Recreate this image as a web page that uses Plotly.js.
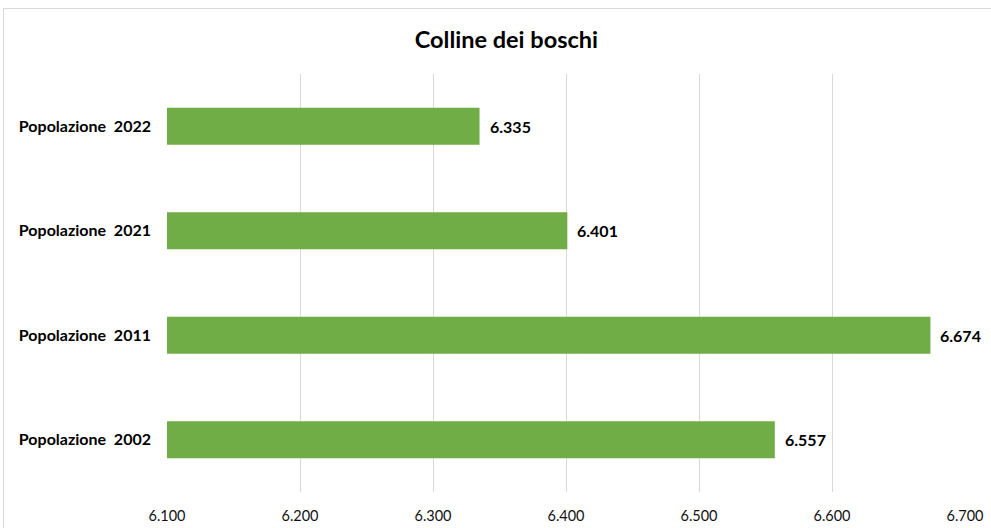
<!DOCTYPE html>
<html>
<head>
<meta charset="utf-8">
<script src="https://cdn.plot.ly/plotly-3.0.1.min.js"></script>
<style>
html,body{margin:0;padding:0;background:#fff;}
#chart{width:991px;height:528px;position:absolute;left:0;top:0;}
#frame{position:absolute;left:3px;top:8px;width:995px;height:540px;border:1px solid #d9d9d9;pointer-events:none;box-sizing:border-box;}
</style>
</head>
<body>
<div id="chart"></div>
<div id="frame"></div>
<script>
const categories = ["Popolazione  2002", "Popolazione  2011", "Popolazione  2021", "Popolazione  2022"];
const values = [6557, 6674, 6401, 6335];
const tickValues = [6100, 6200, 6300, 6400, 6500, 6600, 6700];
const chartTitle = "Colline dei boschi";

const FONT = "Lato, 'Open Sans', sans-serif";

const trace = {
  type: "bar",
  orientation: "h",
  y: categories,
  x: values,
  marker: {color: "#70AD47"},
  width: 0.355,
  hoverinfo: "none"
};

const layout = {
  width: 991, height: 528,
  margin: {l: 167, r: 26, t: 74, b: 36},
  paper_bgcolor: "#fff", plot_bgcolor: "#fff",
  separators: ",.",
  showlegend: false,
  title: {
    text: "<b>" + chartTitle + "</b>",
    font: {family: FONT, size: 23.5, color: "#000"},
    xref: "container", x: 0.511, xanchor: "center",
    yref: "container", y: 1 - 40/528, yanchor: "middle"
  },
  xaxis: {
    range: [6100, 6700],
    tickvals: tickValues,
    tickformat: ",d",
    showgrid: true, gridcolor: "#d9d9d9", gridwidth: 1,
    zeroline: false, showline: false,
    ticks: "", ticklabelstandoff: 13,
    tickfont: {family: FONT, size: 14.5, color: "#111"}
  },
  yaxis: {
    type: "category",
    showgrid: false, zeroline: false, showline: false,
    ticks: "", ticklabelstandoff: 15,
    tickfont: {family: FONT, size: 16, color: "#000", weight: "bold"}
  },
  annotations: values.map((v, i) => ({
    x: v, y: categories[i], xref: "x", yref: "y",
    text: "<b>" + v.toLocaleString("it-IT") + "</b>",
    showarrow: false, xanchor: "left", xshift: 8,
    font: {family: FONT, size: 16, color: "#000"}
  }))
};

Plotly.newPlot("chart", [trace], layout, {staticPlot: true, displayModeBar: false});
</script>
</body>
</html>
